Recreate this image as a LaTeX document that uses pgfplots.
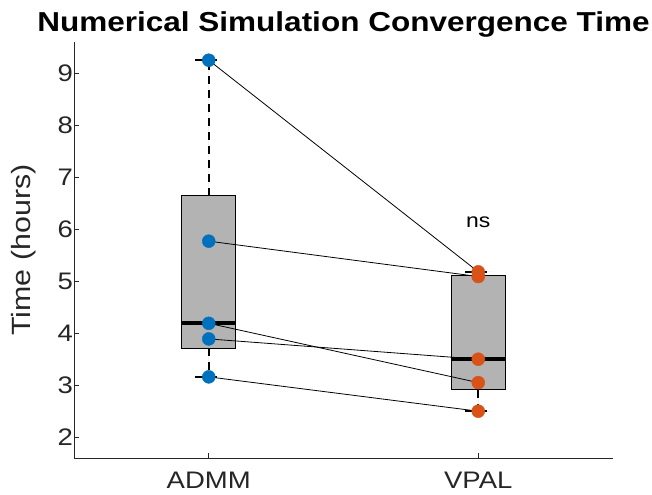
\documentclass[border=0pt]{standalone}
\usepackage{pgfplots}
\usepackage{pgfplotstable}
\pgfplotsset{compat=1.18}
\usepgfplotslibrary{statistics}
\usepackage{fontspec}
\setmainfont{Liberation Sans}[FakeStretch=1.15]
\definecolor{mblue}{RGB}{0,114,189}
\definecolor{morange}{RGB}{217,83,25}
\definecolor{boxgray}{RGB}{179,179,179}
\definecolor{axgray}{RGB}{38,38,38}
\pgfplotstableread{
x1 y1 x2 y2
1 9.25 2 5.18
1 5.77 2 5.09
1 4.19 2 3.05
1 3.89 2 3.50
1 3.16 2 2.50
}\pairs
\begin{document}
\begin{tikzpicture}[x=1bp,y=1bp]
\useasboundingbox (-74bp,-37bp) rectangle (578bp,458bp);
\begin{axis}[
  at={(0,0)}, anchor=south west,
  scale only axis, width=539bp, height=416bp,
  xmin=0.5, xmax=2.5, ymin=1.6, ymax=9.6,
  axis x line*=bottom, axis y line*=left,
  axis line style={axgray, line width=0.6pt},
  tick style={axgray, line width=0.6pt},
  tick align=inside, major tick length=5bp,
  xtick={1,2}, xticklabels={ADMM,VPAL},
  ytick={2,3,4,5,6,7,8,9},
  /pgf/number format/assume math mode=true,
  ticklabel style={font=\fontsize{24}{28}\selectfont, text=axgray},
  xticklabel style={yshift=-11bp},
  yticklabel style={xshift=2.5bp},
  ylabel={Time (hours)},
  ylabel style={font=\fontsize{26.5}{30}\selectfont, text=axgray,
    at={(axis description cs:-0.0928,0.5)}, anchor=center},
  title={\bfseries Numerical Simulation Convergence Time},
  title style={font=\fontsize{27.5}{31}\selectfont, at={(0.5,1)}, anchor=south, yshift=-5bp},
  clip=false,
  boxplot/draw direction=y,
  boxplot/every median/.style={line width=3.8pt},
  boxplot/every whisker/.style={dash pattern=on 8bp off 6bp, line width=1.8pt},
]
\addplot[draw=black, fill=boxgray, line width=1.1pt,
  boxplot prepared={median=4.19, upper quartile=6.64, lower quartile=3.71,
    upper whisker=9.25, lower whisker=3.16, draw position=1,
    box extend=0.2, whisker extend=0.1}] coordinates {};
\addplot[draw=black, fill=boxgray, line width=1.1pt,
  boxplot prepared={median=3.50, upper quartile=5.11, lower quartile=2.91,
    upper whisker=5.18, lower whisker=2.50, draw position=2,
    box extend=0.2, whisker extend=0.1}] coordinates {};
\addplot[black, line width=0.8pt, no marks] coordinates {(1,9.25) (2,5.18)};
\addplot[black, line width=0.8pt, no marks] coordinates {(1,5.77) (2,5.09)};
\addplot[black, line width=0.8pt, no marks] coordinates {(1,4.19) (2,3.05)};
\addplot[black, line width=0.8pt, no marks] coordinates {(1,3.89) (2,3.50)};
\addplot[black, line width=0.8pt, no marks] coordinates {(1,3.16) (2,2.50)};
\addplot[only marks, mark=*, mark size=6.5bp, mblue, mark options={draw=mblue, fill=mblue}] table[x=x1, y=y1] {\pairs};
\addplot[only marks, mark=*, mark size=6.5bp, morange, mark options={draw=morange, fill=morange}] table[x=x2, y=y2] {\pairs};
\node[font=\fontsize{20}{24}\selectfont, text=black] at (axis cs:2,6.13) {ns};
\end{axis}
\end{tikzpicture}
\end{document}
